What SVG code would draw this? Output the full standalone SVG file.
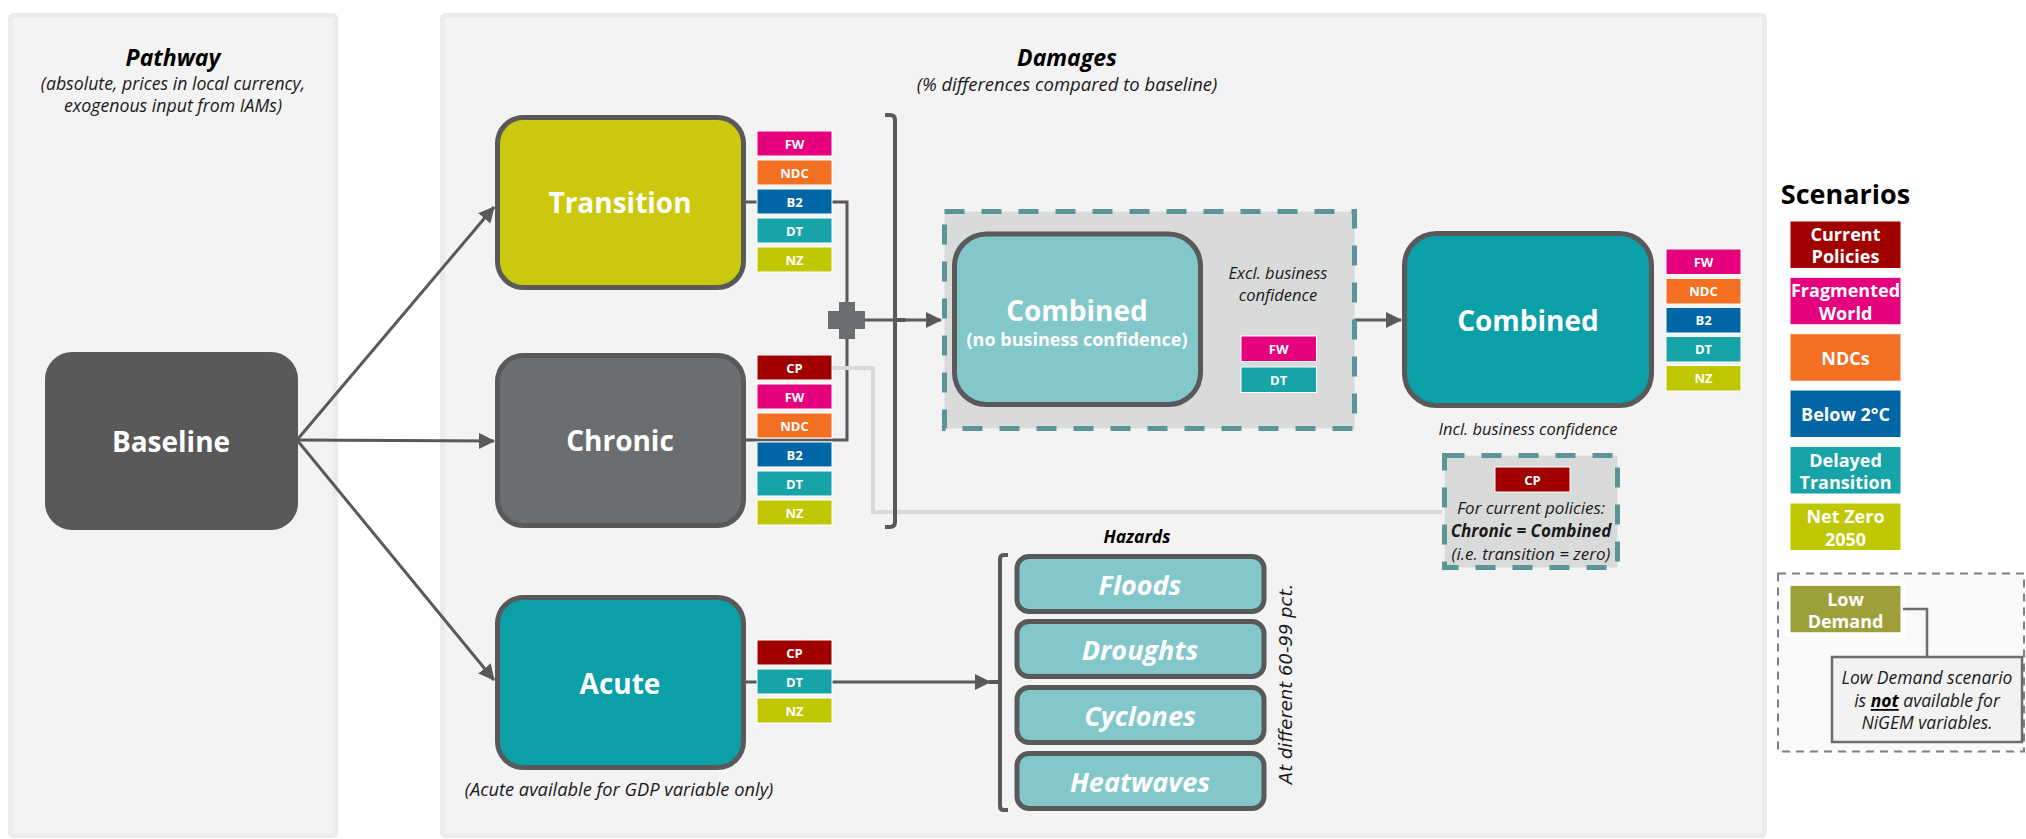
<svg xmlns="http://www.w3.org/2000/svg" width="2026" height="839" viewBox="0 0 2026 839">
<style>
.panel{fill:#f3f3f3;stroke:#ebebeb;stroke-width:5}
.node{stroke:#595959;stroke-width:5}
.lbl{font-family:'Open Sans',sans-serif;font-weight:700;fill:#fff;text-anchor:middle;dominant-baseline:central}
.big{font-size:28px}
.tag rect{stroke:#fff;stroke-width:1}
.tag text{font-family:'Open Sans',sans-serif;font-weight:700;fill:#fff;text-anchor:middle;dominant-baseline:central;font-size:13px}
.leg rect{stroke:#fff;stroke-width:1}
.leg text{font-family:'Open Sans',sans-serif;font-weight:700;fill:#fff;text-anchor:middle;dominant-baseline:central;font-size:18px}
.it{font-family:'Open Sans',sans-serif;font-style:italic;fill:#1a1a1a;text-anchor:middle;dominant-baseline:central}
.ttl{font-family:'Open Sans',sans-serif;font-style:italic;font-weight:700;fill:#000;text-anchor:middle;dominant-baseline:central}
.conn{stroke:#595959;stroke-width:3;fill:none}
.dash{fill:#d9dbdb;stroke:#5b9598;stroke-width:5;stroke-dasharray:20 17}
.haz{fill:#82c8cb;stroke:#595959;stroke-width:5}
.hz{font-size:27px;font-style:italic}
.FW{fill:#e6007e}.NDC{fill:#f36f21}.B2{fill:#0066a6}.DT{fill:#16a4a9}.NZ{fill:#bfc700}.CP{fill:#a00000}
</style>
<defs>
<marker id="arr" markerUnits="userSpaceOnUse" markerWidth="16" markerHeight="16" viewBox="0 0 16 16" refX="15" refY="8" orient="auto"><path d="M0,0 L16,8 L0,16 z" fill="#595959"/></marker>
</defs>

<g id="panels">
<rect class="panel" x="10.5" y="15.5" width="325" height="820" rx="3"/>
<rect class="panel" x="442.5" y="15.5" width="1322" height="820" rx="3"/>
<text class="ttl" x="173" y="57" font-size="23">Pathway</text>
<text class="it" x="173" y="83" font-size="17.7">(absolute, prices in local currency,</text>
<text class="it" x="173" y="105" font-size="17.7">exogenous input from IAMs)</text>
<text class="ttl" x="1067" y="57" font-size="23">Damages</text>
<text class="it" x="1067" y="83" font-size="18.5">(% differences compared to baseline)</text>
</g>

<g id="connectors">
<line class="conn" x1="297" y1="440" x2="494" y2="207" marker-end="url(#arr)"/>
<line class="conn" x1="297" y1="440" x2="494" y2="441" marker-end="url(#arr)"/>
<line class="conn" x1="297" y1="440" x2="494" y2="680" marker-end="url(#arr)"/>
<path class="conn" d="M746,202 H847 V310"/>
<path class="conn" d="M746,440 H847 V330"/>
<path d="M832,368 H873 V512 H1442" fill="none" stroke="#d9d9d9" stroke-width="4"/>
<line class="conn" x1="865" y1="320" x2="941" y2="320" marker-end="url(#arr)"/>
<path d="M885,115 H890 Q895,115 895,120 V522 Q895,527 890,527 H885 M895,320 H906" fill="none" stroke="#595959" stroke-width="4"/>
<line class="conn" x1="1203" y1="320" x2="1401" y2="320" marker-end="url(#arr)"/>
<line class="conn" x1="746" y1="682" x2="990" y2="682" marker-end="url(#arr)"/>
<path d="M1008,555 H1004 Q1000,555 1000,559 V806 Q1000,810 1004,810 H1008 M989,682 H1000" fill="none" stroke="#595959" stroke-width="4"/>
<path d="M828,311 H839 V302 H855 V311 H865 V329 H855 V339 H839 V329 H828 Z" fill="#6b6e70"/>
</g>

<g id="baseline">
<rect x="45" y="352" width="253" height="178" rx="27" fill="#595959"/>
<text class="lbl big" x="171" y="441">Baseline</text>
</g>

<g id="transition">
<rect class="node" x="497.5" y="117.5" width="246" height="170" rx="26" fill="#ccc80e"/>
<text class="lbl big" x="620" y="202">Transition</text>
</g>
<g id="transition-tags" class="tag">
<rect class="FW" x="757" y="131" width="75" height="25"/><text x="794.5" y="143.5">FW</text>
<rect class="NDC" x="757" y="160" width="75" height="25"/><text x="794.5" y="172.5">NDC</text>
<rect class="B2" x="757" y="189" width="75" height="25"/><text x="794.5" y="201.5">B2</text>
<rect class="DT" x="757" y="218" width="75" height="25"/><text x="794.5" y="230.5">DT</text>
<rect class="NZ" x="757" y="247" width="75" height="25"/><text x="794.5" y="259.5">NZ</text>
</g>

<g id="chronic">
<rect class="node" x="497.5" y="355.5" width="246" height="170" rx="26" fill="#6b6e70"/>
<text class="lbl big" x="620" y="440">Chronic</text>
</g>
<g id="chronic-tags" class="tag">
<rect class="CP" x="757" y="355" width="75" height="25"/><text x="794.5" y="367.5">CP</text>
<rect class="FW" x="757" y="384" width="75" height="25"/><text x="794.5" y="396.5">FW</text>
<rect class="NDC" x="757" y="413" width="75" height="25"/><text x="794.5" y="425.5">NDC</text>
<rect class="B2" x="757" y="442" width="75" height="25"/><text x="794.5" y="454.5">B2</text>
<rect class="DT" x="757" y="471" width="75" height="25"/><text x="794.5" y="483.5">DT</text>
<rect class="NZ" x="757" y="500" width="75" height="25"/><text x="794.5" y="512.5">NZ</text>
</g>

<g id="acute">
<rect class="node" x="497.5" y="597.5" width="246" height="170" rx="26" fill="#0b9fa7"/>
<text class="lbl big" x="620" y="683">Acute</text>
<text class="it" x="619" y="788" font-size="18.3">(Acute available for GDP variable only)</text>
</g>
<g id="acute-tags" class="tag">
<rect class="CP" x="757" y="640" width="75" height="25"/><text x="794.5" y="652.5">CP</text>
<rect class="DT" x="757" y="669" width="75" height="25"/><text x="794.5" y="681.5">DT</text>
<rect class="NZ" x="757" y="698" width="75" height="25"/><text x="794.5" y="710.5">NZ</text>
</g>

<g id="combined-nobc">
<rect class="dash" x="944.5" y="211.5" width="410" height="217"/>
<rect class="node" x="954.5" y="234" width="246" height="170.5" rx="32" fill="#82c8cb"/>
<text class="lbl big" x="1077" y="310">Combined</text>
<text class="lbl" x="1077" y="339" font-size="18">(no business confidence)</text>
<text class="it" x="1278" y="272" font-size="16.5">Excl. business</text>
<text class="it" x="1278" y="294" font-size="16.5">confidence</text>
<g class="tag">
<rect class="FW" x="1241" y="336" width="75.5" height="25.5"/><text x="1278.7" y="348.8">FW</text>
<rect class="DT" x="1241" y="367" width="75.5" height="25.5"/><text x="1278.7" y="379.8">DT</text>
</g>
</g>

<g id="combined">
<rect class="node" x="1404.5" y="233.5" width="247" height="172" rx="32" fill="#0b9fa7"/>
<text class="lbl big" x="1528" y="320">Combined</text>
<text class="it" x="1528" y="428" font-size="16.5">Incl. business confidence</text>
</g>
<g id="combined-tags" class="tag">
<rect class="FW" x="1666" y="249" width="75" height="25.5"/><text x="1703.5" y="261.8">FW</text>
<rect class="NDC" x="1666" y="278.5" width="75" height="25.5"/><text x="1703.5" y="291.3">NDC</text>
<rect class="B2" x="1666" y="307.5" width="75" height="25.5"/><text x="1703.5" y="320.3">B2</text>
<rect class="DT" x="1666" y="336.5" width="75" height="25.5"/><text x="1703.5" y="349.3">DT</text>
<rect class="NZ" x="1666" y="365.5" width="75" height="25.5"/><text x="1703.5" y="378.3">NZ</text>
</g>

<g id="cp-note">
<rect class="dash" x="1444.5" y="455.5" width="173" height="112"/>
<g class="tag"><rect class="CP" x="1495" y="467" width="75" height="25"/><text x="1532.5" y="479.5">CP</text></g>
<text class="it" x="1531" y="507" font-size="17">For current policies:</text>
<text class="it" x="1531" y="530" font-size="17" font-weight="700" fill="#000">Chronic = Combined</text>
<text class="it" x="1531" y="553" font-size="17">(i.e. transition = zero)</text>
</g>

<g id="hazards">
<text class="ttl" x="1137" y="536" font-size="17.5">Hazards</text>
<rect class="haz" x="1017" y="556.5" width="247" height="55" rx="12"/>
<text class="lbl hz" x="1140" y="584">Floods</text>
<rect class="haz" x="1017" y="621.5" width="247" height="55" rx="12"/>
<text class="lbl hz" x="1140" y="649">Droughts</text>
<rect class="haz" x="1017" y="687.5" width="247" height="55" rx="12"/>
<text class="lbl hz" x="1140" y="715">Cyclones</text>
<rect class="haz" x="1017" y="753.5" width="247" height="55" rx="12"/>
<text class="lbl hz" x="1140" y="781">Heatwaves</text>
<text x="1285" y="684" transform="rotate(-90 1285 684)" font-family="'DejaVu Sans',sans-serif" font-style="italic" font-size="18" fill="#1a1a1a" text-anchor="middle" dominant-baseline="central">At different 60-99 pct.</text>
</g>

<g id="legend" class="leg">
<text x="1845.5" y="193" style="font-size:27px;fill:#000">Scenarios</text>
<rect class="CP" x="1790" y="221" width="111" height="47.5"/><text x="1845.5" y="234">Current</text><text x="1845.5" y="256">Policies</text>
<rect class="FW" x="1790" y="277.3" width="111" height="47.5"/><text x="1845.5" y="290">Fragmented</text><text x="1845.5" y="312.5">World</text>
<rect class="NDC" x="1790" y="333.7" width="111" height="47.5"/><text x="1845.5" y="358">NDCs</text>
<rect class="B2" x="1790" y="390" width="111" height="47.5"/><text x="1845.5" y="414">Below 2°C</text>
<rect class="DT" x="1790" y="446.5" width="111" height="47.5"/><text x="1845.5" y="459.5">Delayed</text><text x="1845.5" y="482">Transition</text>
<rect class="NZ" x="1790" y="503" width="111" height="47.5"/><text x="1845.5" y="516">Net Zero</text><text x="1845.5" y="538.5">2050</text>
</g>

<g id="low-demand">
<rect x="1778" y="573.5" width="246" height="178" fill="#fafafa" stroke="#7f7f7f" stroke-width="2" stroke-dasharray="8 6"/>
<rect x="1785" y="580.7" width="121" height="56.3" fill="#fff"/>
<g class="leg"><rect x="1790" y="585.3" width="111" height="47.5" fill="#9ea03c"/><text x="1845.5" y="598.5">Low</text><text x="1845.5" y="620.5">Demand</text></g>
<path d="M1903,609 H1927 V656" fill="none" stroke="#6b6e70" stroke-width="2.5"/>
<rect x="1832" y="657" width="190" height="85" fill="#f2f2f2" stroke="#6b6e70" stroke-width="2.5"/>
<text class="it" x="1927" y="677" font-size="17.5">Low Demand scenario</text>
<text class="it" x="1927" y="700" font-size="17.5">is <tspan font-weight="700" text-decoration="underline" fill="#000">not</tspan> available for</text>
<text class="it" x="1927" y="722" font-size="17.5">NiGEM variables.</text>
</g>
</svg>
